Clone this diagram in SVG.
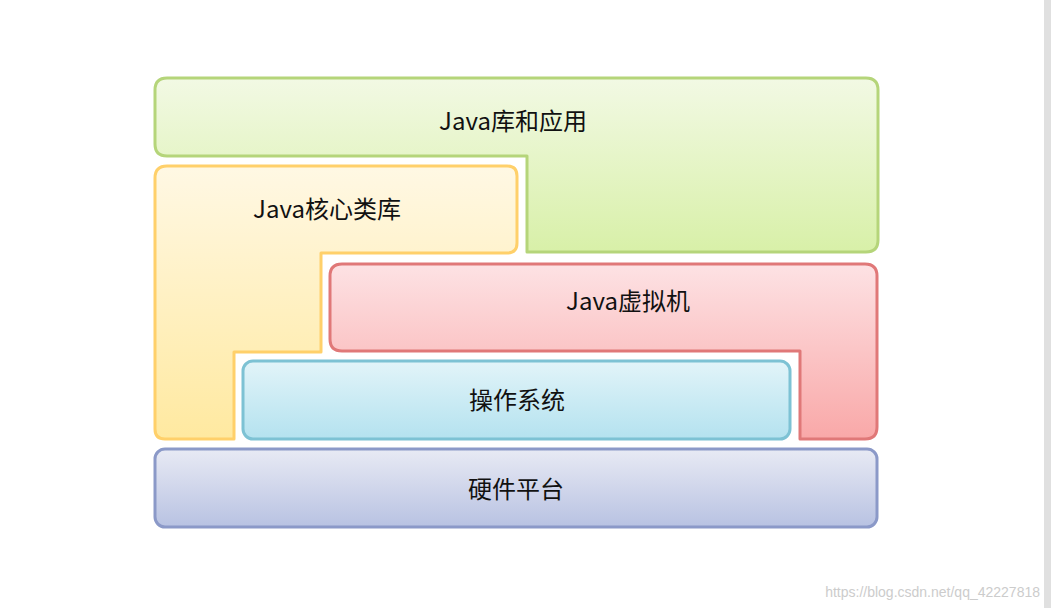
<svg xmlns="http://www.w3.org/2000/svg" width="1051" height="608" viewBox="0 0 1051 608">
<defs>
<linearGradient id="gG" x1="0" y1="0" x2="0" y2="1"><stop offset="0" stop-color="#f2f9e4"/><stop offset="1" stop-color="#d8f0a8"/></linearGradient>
<linearGradient id="gY" x1="0" y1="0" x2="0" y2="1"><stop offset="0" stop-color="#fff8e4"/><stop offset="1" stop-color="#ffe9a0"/></linearGradient>
<linearGradient id="gR" x1="0" y1="0" x2="0" y2="1"><stop offset="0" stop-color="#fde2e4"/><stop offset="1" stop-color="#f9a8a8"/></linearGradient>
<linearGradient id="gB" x1="0" y1="0" x2="0" y2="1"><stop offset="0" stop-color="#e2f4f9"/><stop offset="1" stop-color="#b4e2ef"/></linearGradient>
<linearGradient id="gP" x1="0" y1="0" x2="0" y2="1"><stop offset="0" stop-color="#e8eaf4"/><stop offset="1" stop-color="#b8c2e2"/></linearGradient>
</defs>
<style>
.s{stroke-width:3;stroke-linejoin:round}
.t{font-family:"Noto Sans CJK SC","Liberation Sans",sans-serif;font-size:24px;fill:#111;text-anchor:middle}
</style>
<rect width="1051" height="608" fill="#fff"/>
<rect x="1044" y="0" width="7" height="608" fill="#e0e0e0"/>
<g id="green"><path class="s" d="M167,78 H866 Q878,78 878,90 V240 Q878,252 866,252 H527 V156 H167 Q155,156 155,144 V90 Q155,78 167,78 Z" fill="url(#gG)" stroke="#b5d57a"/><text class="t" x="513" y="130">Java库和应用</text></g>
<g id="yellow"><path class="s" d="M167,166 H507 Q517,166 517,176 V243 Q517,253 507,253 H321 V352 H234 V439 H165 Q155,439 155,429 V178 Q155,166 167,166 Z" fill="url(#gY)" stroke="#ffd06a"/><text class="t" x="327" y="218">Java核心类库</text></g>
<g id="red"><path class="s" d="M342,264 H865 Q877,264 877,276 V427 Q877,439 865,439 H800 V351 H342 Q330,351 330,339 V276 Q330,264 342,264 Z" fill="url(#gR)" stroke="#e07878"/><text class="t" x="628" y="310">Java虚拟机</text></g>
<g id="blue"><rect class="s" x="243" y="361" width="547" height="78" rx="10" fill="url(#gB)" stroke="#7dc2d4"/><text class="t" x="517" y="409">操作系统</text></g>
<g id="purple"><rect class="s" x="155" y="449" width="722" height="78" rx="10" fill="url(#gP)" stroke="#8b99c8"/><text class="t" x="516" y="498">硬件平台</text></g>
<text x="1040" y="597" font-family="Liberation Sans,sans-serif" font-size="14" fill="#ccc" text-anchor="end">https://blog.csdn.net/qq_42227818</text>
</svg>
